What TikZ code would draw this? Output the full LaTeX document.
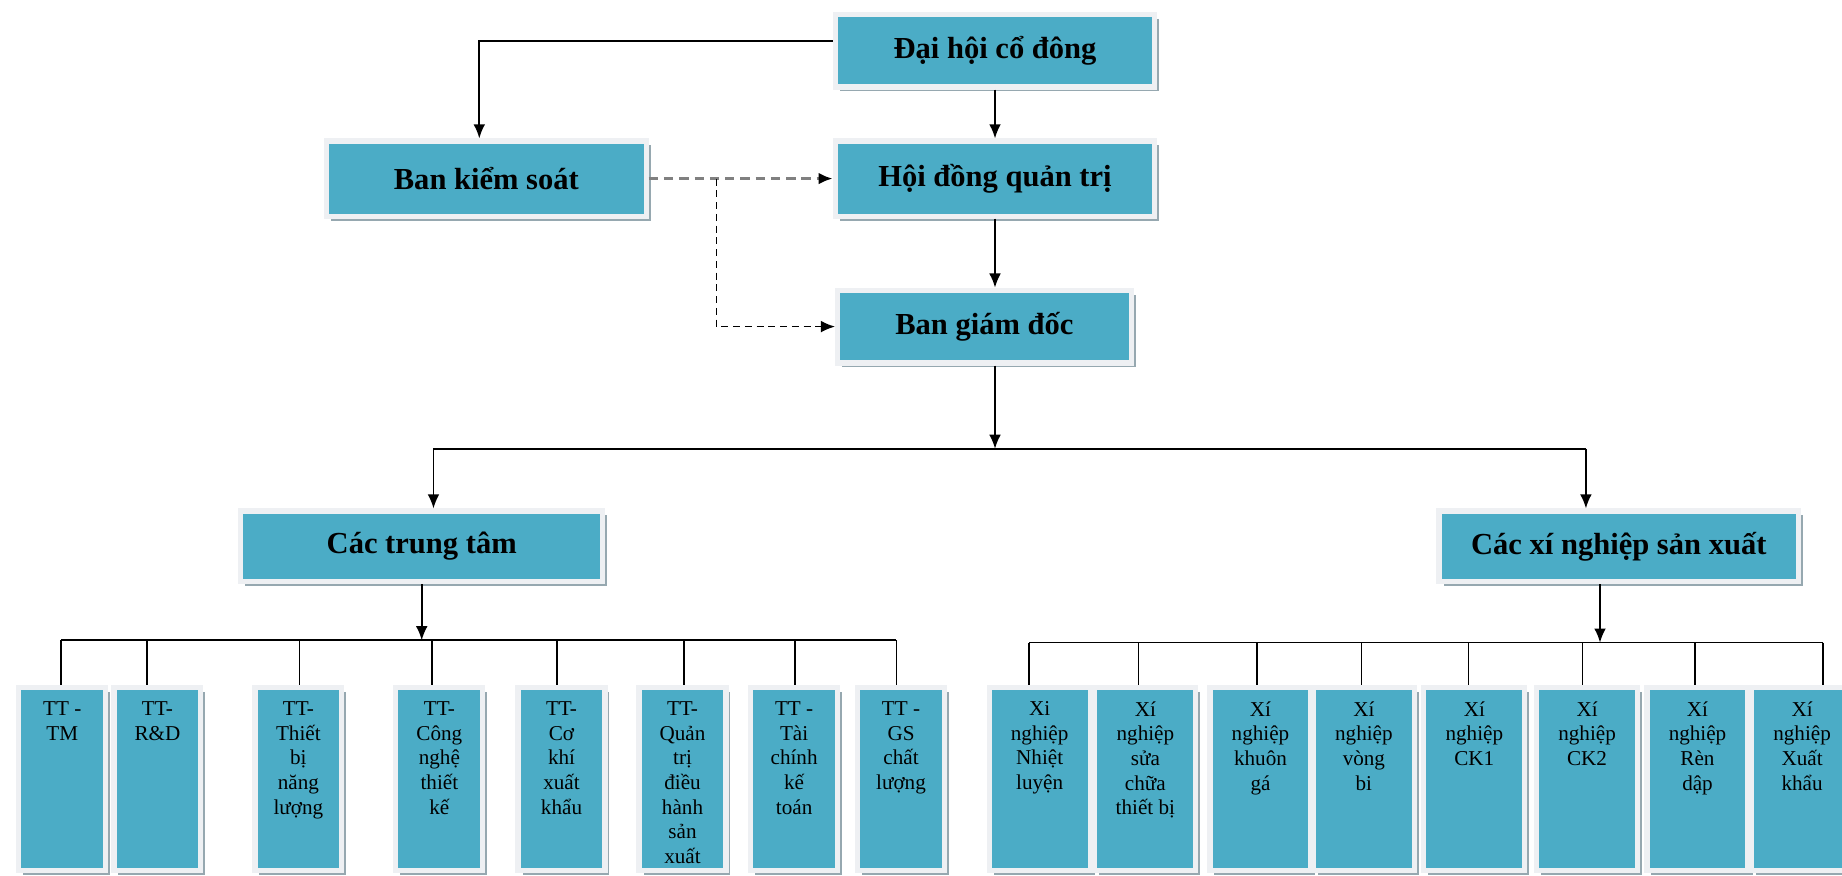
\documentclass[tikz,border=0pt]{standalone}
\usepackage{fontspec}
\setmainfont{Liberation Serif}
\usetikzlibrary{arrows.meta,shadows}
\definecolor{boxteal}{RGB}{75,172,198}
\definecolor{boxframe}{RGB}{238,240,243}
\definecolor{boxshade}{RGB}{150,168,176}
\begin{document}
\begin{tikzpicture}[x=0.5pt,y=-0.5pt,
  box/.style={fill=boxteal,draw=boxframe,line width=2.2pt,inner sep=0pt,
    drop shadow={shadow xshift=1.9pt,shadow yshift=-1.9pt,fill=boxshade,opacity=1}},
  bigbox/.style={box,minimum width=136pt,minimum height=32pt,
    font=\bfseries\fontsize{13}{15}\selectfont},
  unitbox/.style={box,minimum height=78pt},
  unittext/.style={align=center,inner sep=0pt,anchor=north,
    font=\fontsize{9}{10.5}\selectfont},
  link/.style={line width=0.7pt},
  arr/.style={link,-{Latex[length=6pt,width=5pt]}},
  dasharr/.style={line width=1.3pt,gray,dash pattern=on 4pt off 2.5pt,
    -{Latex[length=6pt,width=5pt,color=black]}},
  thindash/.style={line width=0.6pt,dash pattern=on 3pt off 2pt}]
\useasboundingbox (0,0) rectangle (1568,745);
% the governing bodies
\node[bigbox,minimum height=31pt] (dhcd) at (847,43) {Đại hội cổ đông};
\node[bigbox] (bks) at (414,152) {Ban kiểm soát};
\node[bigbox] (hdqt) at (847,152) {Hội đồng quản trị};
\node[bigbox,minimum width=125pt,minimum height=31pt] (bgd) at (838,278) {Ban giám đốc};
\node[bigbox,minimum width=154pt,minimum height=30pt] (ctt) at (359,465) {Các trung tâm};
\node[bigbox,minimum width=153pt,minimum height=30pt] (cxn) at (1378,465) {Các xí nghiệp sản xuất};
% links between them
\draw[arr] ([yshift=4pt]dhcd.west) -| ([xshift=-3pt]bks.north);
\draw[arr] (dhcd.south) -- (hdqt.north);
\draw[arr] (hdqt.south) -- (hdqt.south |- bgd.north);
\coordinate (br) at (610,152);
\draw[dasharr] (bks.east) -- (hdqt.west);
\draw[thindash,arr] (br) |- (bgd.west);
\coordinate (jc) at (847,382);
\coordinate (jl) at (369,382);
\coordinate (jr) at (1350,382);
\draw[arr] (bgd.south -| jc) -- (jc);
\draw[link] (jl) -- (jr);
\draw[arr] (jl) -- (jl |- ctt.north);
\draw[arr] (jr) -- (jr |- cxn.north);
% the centres
\foreach \n/\cx/\dx/\txt in {1/53/52/{TT -\\TM},2/134/125/{TT-\\R\&D},
    3/254/255/{TT-\\Thiết\\bị\\năng\\lượng},4/374/368/{TT-\\Công\\nghệ\\thiết\\kế},
    5/478/474/{TT-\\Cơ\\khí\\xuất\\khẩu},6/581/582/{TT-\\Quản\\trị\\điều\\hành\\sản\\xuất},
    7/676/677/{TT -\\Tài\\chính\\kế\\toán},8/767/763/{TT -\\GS\\chất\\lượng}}
{
  \node[unitbox,minimum width=37pt] (b\n) at (\cx,663) {};
  \node[unittext] (t\n) at ([yshift=-7pt]b\n.north) {\txt};
  \coordinate (d\n) at (\dx,545);
  \draw[link] (d\n) -- (d\n |- b\n.north);
}
% the factories
\foreach \n/\cx/\dx/\txt in {9/885/876/{Xi\\nghiệp\\Nhiệt\\luyện},10/975/969/{Xí\\nghiệp\\sửa\\chữa\\thiết bị},
    11/1073/1070/{Xí\\nghiệp\\khuôn\\gá},12/1161/1159/{Xí\\nghiệp\\vòng\\bi},
    13/1255/1250/{Xí\\nghiệp\\CK1},14/1351/1347/{Xí\\nghiệp\\CK2},
    15/1445/1443/{Xí\\nghiệp\\Rèn\\dập},16/1534/1552/{Xí\\nghiệp\\Xuất\\khẩu}}
{
  \node[unitbox,minimum width=43pt] (b\n) at (\cx,663) {};
  \node[unittext] (t\n) at ([yshift=-7pt]b\n.north) {\txt};
  \coordinate (d\n) at (\dx,547);
  \draw[link] (d\n) -- (d\n |- b\n.north);
}
\draw[link] (d1) -- (d8);
\draw[link] (d9) -- (d16);
\draw[arr] (ctt.south) -- (ctt.south |- d1);
\draw[arr] ([xshift=-8pt]cxn.south) -- ([xshift=-8pt]cxn.south |- d9);
\end{tikzpicture}
\end{document}
